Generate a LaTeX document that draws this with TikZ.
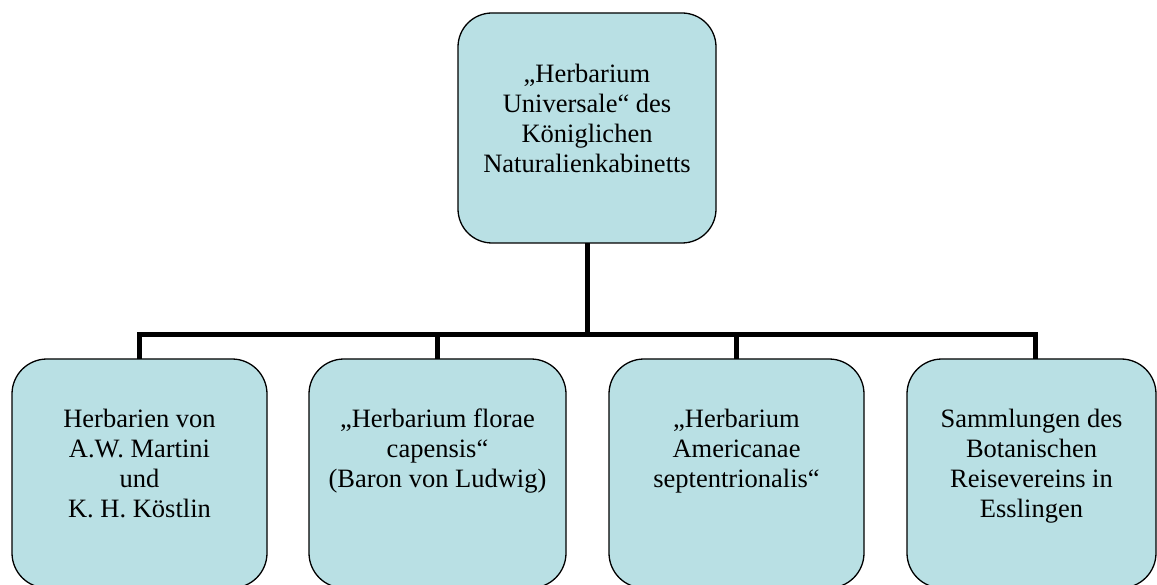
\documentclass[tikz,border=0pt]{standalone}
\usepackage{fontspec}
\setmainfont{Liberation Serif}
\definecolor{boxfill}{HTML}{B9E0E4}
\begin{document}
\begin{tikzpicture}[x=1pt,y=-1pt,
  box/.style={draw=black, line width=1.3pt, fill=boxfill, rounded corners=35pt, inner sep=0pt, outer sep=0pt},
  lbl/.style={anchor=north, align=center, inner sep=0pt, font=\fontsize{26.5}{30}\selectfont},
  conn/.style={draw=black, line width=5pt}]
\clip (0,0) rectangle (1157,585);
\fill[white] (0,0) rectangle (1157,585);
% boxes
\node[box, rounded corners=34pt, minimum width=258pt, minimum height=230pt] (top) at (587,128) {};
\node[box, minimum width=255pt, minimum height=229pt] (b1) at (139.5,473.5) {};
\node[box, minimum width=257pt, minimum height=229pt] (b2) at (437.5,473.5) {};
\node[box, minimum width=255pt, minimum height=229pt] (b3) at (736.5,473.5) {};
\node[box, minimum width=249pt, minimum height=229pt] (b4) at (1031.5,473.5) {};
% labels
\node[lbl] (ttop) at (587,64) {„Herbarium\\Universale“ des\\Königlichen\\Naturalienkabinetts};
\node[lbl] (t1) at (139.5,409) {Herbarien von\\A.W. Martini\\und\\K. H. Köstlin};
\node[lbl] (t2) at (437.5,409) {„Herbarium florae\\capensis“\\(Baron von Ludwig)};
\node[lbl] (t3) at (736.5,409) {„Herbarium\\Americanae\\septentrionalis“};
\node[lbl] (t4) at (1031.5,409) {Sammlungen des\\Botanischen\\Reisevereins in\\Esslingen};
% connectors
\coordinate (bus) at (587,335);
\draw[conn] (top.south) -- (bus);
\draw[conn] (bus) -| (b1.north);
\draw[conn] (bus) -| (b2.north);
\draw[conn] (bus) -| (b3.north);
\draw[conn] (bus) -| ([xshift=3.5pt]b4.north);
\end{tikzpicture}
\end{document}
